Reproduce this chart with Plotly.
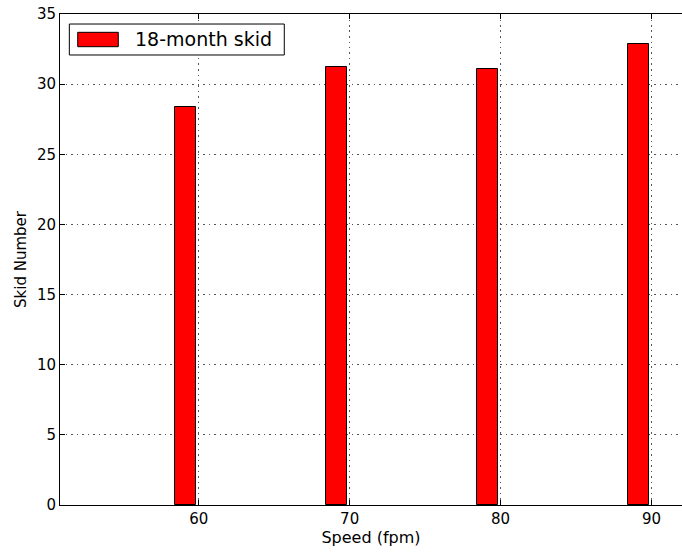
import plotly.graph_objects as go

# Skid resistance at 18 months, by test speed
speeds = [60, 70, 80, 90]
skid_numbers = [28.35, 31.2, 31.05, 32.85]
series_name = "18-month skid"

x_ticks = [60, 70, 80, 90]
y_ticks = [0, 5, 10, 15, 20, 25, 30, 35]

font_family = "DejaVu Sans"

fig = go.Figure()
fig.add_trace(go.Bar(
    x=speeds,
    y=skid_numbers,
    name=series_name,
    width=1.4,
    offset=-1.55,
    marker=dict(color="#ff0000", line=dict(color="black", width=1)),
    showlegend=False,
))

# Legend box drawn by hand so the swatch is a wide rectangle
fig.add_shape(type="rect", xref="paper", yref="paper",
              x0=0.0150, x1=0.3606, y0=0.9165, y1=0.9796,
              line=dict(color="black", width=1), fillcolor="white",
              layer="above")
fig.add_shape(type="rect", xref="paper", yref="paper",
              x0=0.0285, x1=0.0937, y0=0.9334, y1=0.9627,
              line=dict(color="black", width=1), fillcolor="#ff0000",
              layer="above")
fig.add_annotation(xref="paper", yref="paper", x=0.1170, y=0.9485,
                   text=series_name, showarrow=False, xanchor="left",
                   yanchor="middle",
                   font=dict(family=font_family, size=19, color="black"))

grid_style = dict(showgrid=True, gridcolor="#555555", gridwidth=1,
                  griddash="1.5px,4px")

fig.update_layout(
    width=682, height=554,
    margin=dict(l=60, r=0, t=14, b=49),
    paper_bgcolor="white", plot_bgcolor="white",
    font=dict(family=font_family, color="black"),
    bargap=0,
)
fig.update_xaxes(
    range=[50.81, 92.02],
    tickvals=x_ticks,
    ticks="inside", ticklen=5, tickcolor="black",
    showline=True, linecolor="black", linewidth=1, mirror="ticks",
    zeroline=False,
    tickfont=dict(size=15),
    title=dict(text="Speed (fpm)", font=dict(size=16), standoff=2),
    **grid_style,
)
fig.update_yaxes(
    range=[0, 35],
    tickvals=y_ticks,
    ticks="inside", ticklen=5, tickcolor="black",
    showline=True, linecolor="black", linewidth=1,
    zeroline=False,
    tickfont=dict(size=15),
    title=dict(text="Skid Number", font=dict(size=15), standoff=6),
    **grid_style,
)

fig.write_html("out.html")
